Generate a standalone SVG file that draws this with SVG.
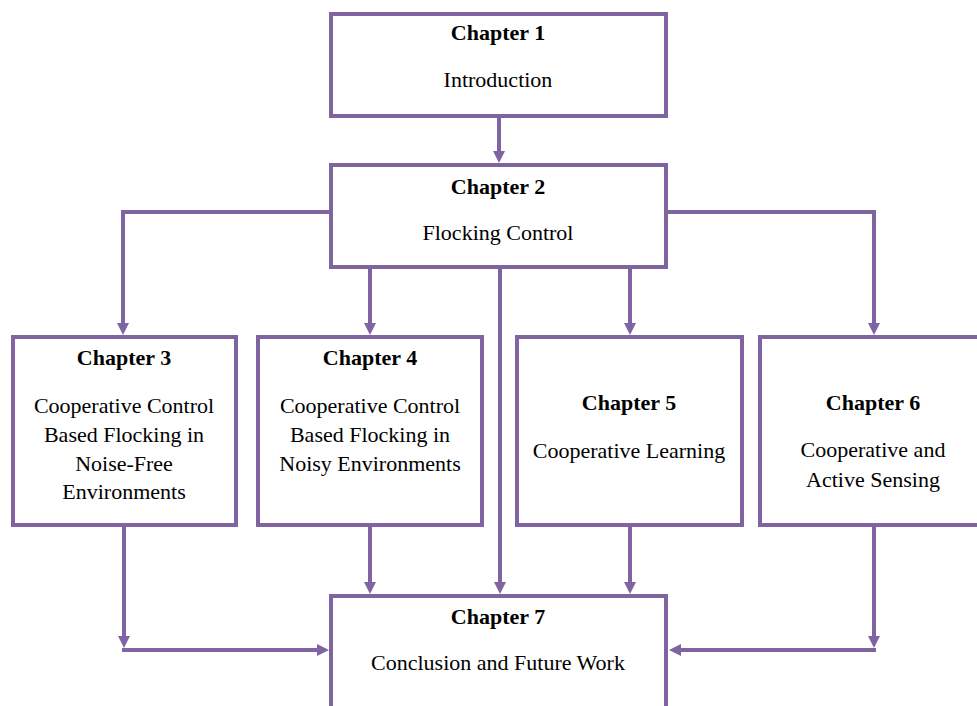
<svg xmlns="http://www.w3.org/2000/svg" width="977" height="706" viewBox="0 0 977 706">
<style>
.box{fill:#fff;stroke:#8064A2;stroke-width:4}
.ln{fill:none;stroke:#8064A2;stroke-width:4}
text{font-family:"Liberation Serif","Times New Roman",serif;font-size:22px;fill:#000;text-anchor:middle}
.t{font-weight:bold}
</style>
<defs>
<marker id="ah" viewBox="0 0 12 12" markerWidth="12" markerHeight="12" refX="2" refY="6" orient="auto" markerUnits="userSpaceOnUse">
<path d="M0,0 L12,6 L0,12 z" fill="#8064A2"/>
</marker>
</defs>
<rect width="977" height="706" fill="#fff"/>
<g id="connectors">
<path class="ln" d="M499,118 V153" marker-end="url(#ah)"/>
<path class="ln" d="M331,212 H123 V325" marker-end="url(#ah)"/>
<path class="ln" d="M666,212 H874 V325" marker-end="url(#ah)"/>
<path class="ln" d="M370,269 V325" marker-end="url(#ah)"/>
<path class="ln" d="M630,269 V325" marker-end="url(#ah)"/>
<path class="ln" d="M500,269 V584" marker-end="url(#ah)"/>
<path class="ln" d="M370,527 V584" marker-end="url(#ah)"/>
<path class="ln" d="M630,527 V584" marker-end="url(#ah)"/>
<path class="ln" d="M124,527 V638" marker-end="url(#ah)"/>
<path class="ln" d="M122,650 H319" marker-end="url(#ah)"/>
<path class="ln" d="M874,527 V638" marker-end="url(#ah)"/>
<path class="ln" d="M876,650 H679" marker-end="url(#ah)"/>
</g>
<g id="ch1">
<rect class="box" x="331" y="14" width="335" height="102"/>
<text class="t" x="498" y="40">Chapter 1</text>
<text x="498" y="87">Introduction</text>
</g>
<g id="ch2">
<rect class="box" x="331" y="165" width="335" height="102"/>
<text class="t" x="498" y="194">Chapter 2</text>
<text x="498" y="240">Flocking Control</text>
</g>
<g id="ch3">
<rect class="box" x="13" y="337" width="223" height="188"/>
<text class="t" x="124" y="365">Chapter 3</text>
<text x="124" y="413">Cooperative Control</text>
<text x="124" y="442">Based Flocking in</text>
<text x="124" y="471">Noise-Free</text>
<text x="124" y="499">Environments</text>
</g>
<g id="ch4">
<rect class="box" x="258" y="337" width="224" height="188"/>
<text class="t" x="370" y="365">Chapter 4</text>
<text x="370" y="413">Cooperative Control</text>
<text x="370" y="442">Based Flocking in</text>
<text x="370" y="471">Noisy Environments</text>
</g>
<g id="ch5">
<rect class="box" x="517" y="337" width="225" height="188"/>
<text class="t" x="629" y="410">Chapter 5</text>
<text x="629" y="458">Cooperative Learning</text>
</g>
<g id="ch6">
<rect class="box" x="760" y="337" width="230" height="188"/>
<text class="t" x="873" y="410">Chapter 6</text>
<text x="873" y="457">Cooperative and</text>
<text x="873" y="487">Active Sensing</text>
</g>
<g id="ch7">
<rect class="box" x="331" y="596" width="335" height="130"/>
<text class="t" x="498" y="624">Chapter 7</text>
<text x="498" y="670">Conclusion and Future Work</text>
</g>
</svg>
